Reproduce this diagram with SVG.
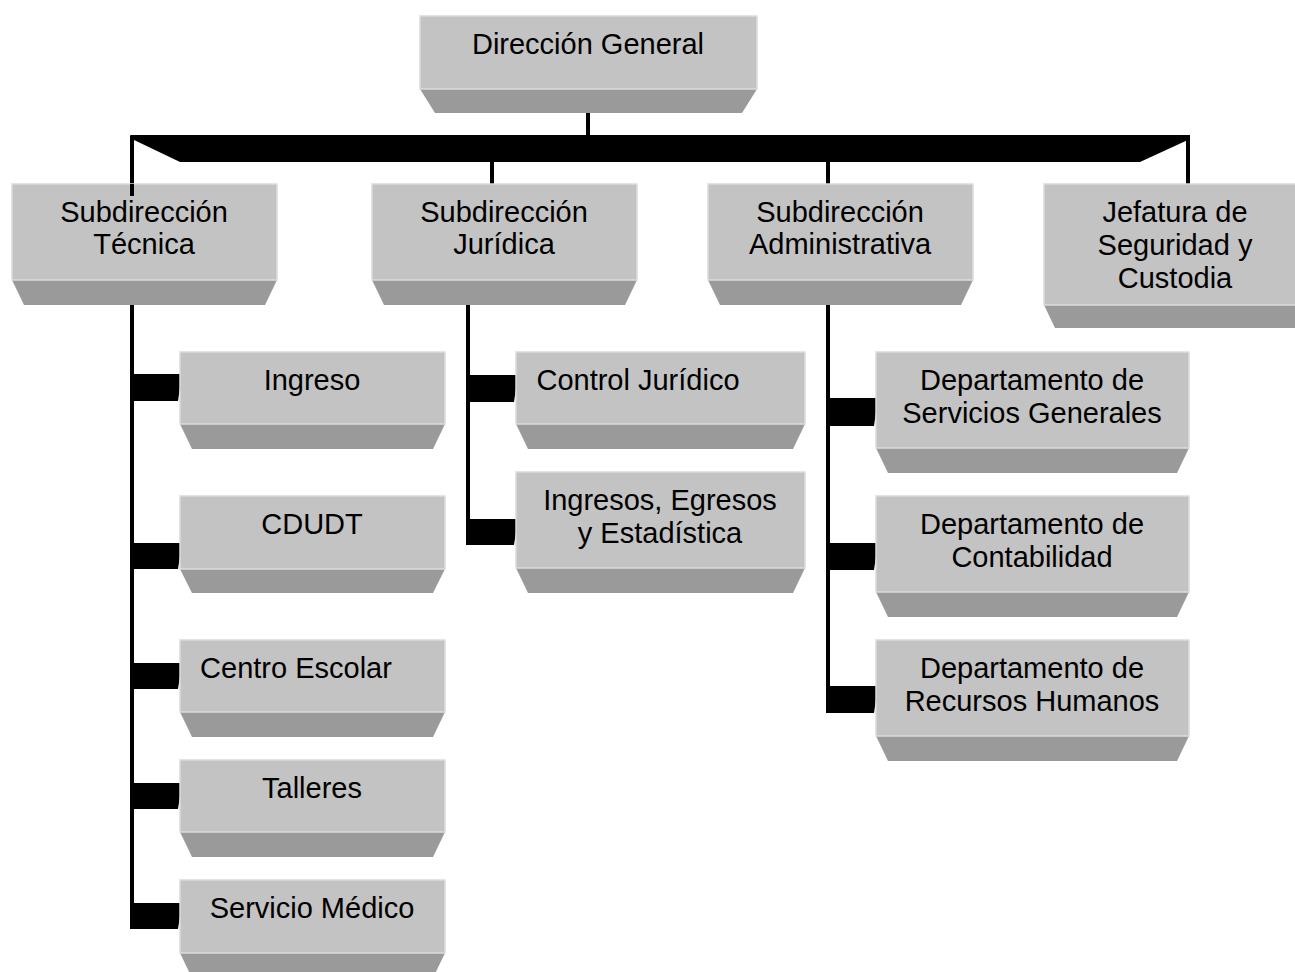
<svg xmlns="http://www.w3.org/2000/svg" width="1295" height="972" viewBox="0 0 1295 972">
<style>
.front{fill:#c3c3c3;stroke:#dcdcdc;stroke-width:1.5}
.bevel{fill:#9a9a9a}
.lbl{font-family:"Liberation Sans",Arial,sans-serif;font-size:29px;fill:#000;text-anchor:middle}
.ln{stroke:#000;stroke-width:4;fill:none}
.stub{fill:#000}
</style>
<rect width="1295" height="972" fill="#fff"/>

<g id="connectors">
  <polygon class="stub" points="130,135 1190,135 1190,139 1140,162 180,162 132,139"/>
  <line class="ln" x1="588" y1="87" x2="588" y2="136"/>
  <line class="ln" x1="132" y1="136" x2="132" y2="196"/>
  <line class="ln" x1="492" y1="160" x2="492" y2="185"/>
  <line class="ln" x1="828" y1="160" x2="828" y2="185"/>
  <line class="ln" x1="1188" y1="136" x2="1188" y2="185"/>
  <line class="ln" x1="132" y1="280" x2="132" y2="929"/>
  <line class="ln" x1="468" y1="280" x2="468" y2="545"/>
  <line class="ln" x1="828" y1="280" x2="828" y2="713"/>
  <polygon class="stub" points="130,374 182,374 178,401 130,401"/>
  <polygon class="stub" points="130,543 182,543 178,569 130,569"/>
  <polygon class="stub" points="130,663 182,663 178,689 130,689"/>
  <polygon class="stub" points="130,783 182,783 178,809 130,809"/>
  <polygon class="stub" points="130,903 182,903 178,929 131,929"/>
  <polygon class="stub" points="466,375 518,375 514,402 466,402"/>
  <polygon class="stub" points="466,519 518,519 514,545 467,545"/>
  <polygon class="stub" points="826,398 878,398 874,426 826,426"/>
  <polygon class="stub" points="826,543 878,543 874,570 826,570"/>
  <polygon class="stub" points="826,686 878,686 874,713 827,713"/>
</g>

<g id="direccion-general">
  <polygon class="bevel" points="420,89 757,89 742,113 435,113"/>
  <rect class="front" x="420" y="16" width="337" height="73"/>
  <text class="lbl" x="588" y="54">Dirección General</text>
</g>

<g id="subdireccion-tecnica">
  <polygon class="bevel" points="12,280 277,280 265,305 24,305"/>
  <rect class="front" x="12" y="184" width="265" height="96"/>
  <line class="ln" x1="132" y1="184" x2="132" y2="196"/>
  <text class="lbl" x="144" y="222">Subdirección</text>
  <text class="lbl" x="144" y="254">Técnica</text>
</g>

<g id="subdireccion-juridica">
  <polygon class="bevel" points="372,280 637,280 625,305 384,305"/>
  <rect class="front" x="372" y="184" width="265" height="96"/>
  <text class="lbl" x="504" y="222">Subdirección</text>
  <text class="lbl" x="504" y="254">Jurídica</text>
</g>

<g id="subdireccion-administrativa">
  <polygon class="bevel" points="708,280 973,280 961,305 720,305"/>
  <rect class="front" x="708" y="184" width="265" height="96"/>
  <text class="lbl" x="840" y="222">Subdirección</text>
  <text class="lbl" x="840" y="254">Administrativa</text>
</g>

<g id="jefatura-seguridad">
  <polygon class="bevel" points="1044,305 1309,305 1298,328 1055,328"/>
  <rect class="front" x="1044" y="184" width="265" height="121"/>
  <text class="lbl" x="1175" y="222">Jefatura de</text>
  <text class="lbl" x="1175" y="255">Seguridad y</text>
  <text class="lbl" x="1175" y="288">Custodia</text>
</g>

<g id="ingreso">
  <polygon class="bevel" points="180,424 445,424 433,449 192,449"/>
  <rect class="front" x="180" y="352" width="265" height="72"/>
  <text class="lbl" x="312" y="390">Ingreso</text>
</g>

<g id="cdudt">
  <polygon class="bevel" points="180,569 445,569 433,593 192,593"/>
  <rect class="front" x="180" y="496" width="265" height="73"/>
  <text class="lbl" x="312" y="534">CDUDT</text>
</g>

<g id="centro-escolar">
  <polygon class="bevel" points="180,712 445,712 433,737 192,737"/>
  <rect class="front" x="180" y="640" width="265" height="72"/>
  <text class="lbl" x="296" y="678">Centro Escolar</text>
</g>

<g id="talleres">
  <polygon class="bevel" points="180,832 445,832 433,857 192,857"/>
  <rect class="front" x="180" y="760" width="265" height="72"/>
  <text class="lbl" x="312" y="798">Talleres</text>
</g>

<g id="servicio-medico">
  <polygon class="bevel" points="180,953 445,953 433,978 192,978"/>
  <rect class="front" x="180" y="880" width="265" height="73"/>
  <text class="lbl" x="312" y="918">Servicio Médico</text>
</g>

<g id="control-juridico">
  <polygon class="bevel" points="516,424 805,424 793,449 528,449"/>
  <rect class="front" x="516" y="352" width="289" height="72"/>
  <text class="lbl" x="638" y="390">Control Jurídico</text>
</g>

<g id="ingresos-egresos">
  <polygon class="bevel" points="516,568 805,568 793,593 528,593"/>
  <rect class="front" x="516" y="472" width="289" height="96"/>
  <text class="lbl" x="660" y="510">Ingresos, Egresos</text>
  <text class="lbl" x="660" y="543">y Estadística</text>
</g>

<g id="servicios-generales">
  <polygon class="bevel" points="876,448 1189,448 1177,473 888,473"/>
  <rect class="front" x="876" y="352" width="313" height="96"/>
  <text class="lbl" x="1032" y="390">Departamento de</text>
  <text class="lbl" x="1032" y="423">Servicios Generales</text>
</g>

<g id="contabilidad">
  <polygon class="bevel" points="876,592 1189,592 1177,617 888,617"/>
  <rect class="front" x="876" y="496" width="313" height="96"/>
  <text class="lbl" x="1032" y="534">Departamento de</text>
  <text class="lbl" x="1032" y="567">Contabilidad</text>
</g>

<g id="recursos-humanos">
  <polygon class="bevel" points="876,736 1189,736 1177,761 888,761"/>
  <rect class="front" x="876" y="640" width="313" height="96"/>
  <text class="lbl" x="1032" y="678">Departamento de</text>
  <text class="lbl" x="1032" y="711">Recursos Humanos</text>
</g>
</svg>
